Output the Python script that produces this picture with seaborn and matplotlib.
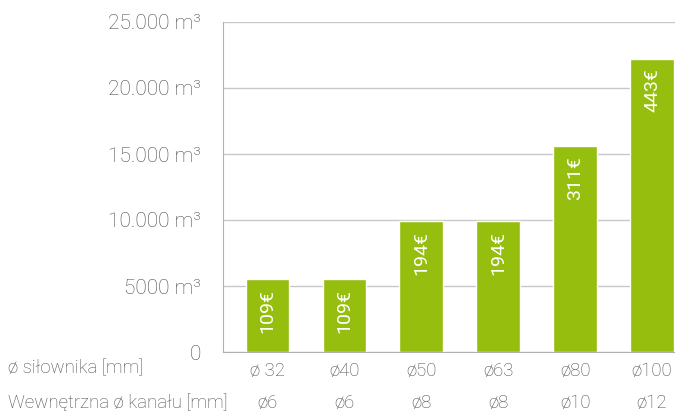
import matplotlib
matplotlib.use('Agg')
import matplotlib.pyplot as plt
import matplotlib.transforms as mtransforms
import pandas as pd
import seaborn as sns

# dane
silownik = ['ø 32', 'ø40', 'ø50', 'ø63', 'ø80', 'ø100']
kanal = ['ø6', 'ø6', 'ø8', 'ø8', 'ø10', 'ø12']
objetosc = [5500, 5500, 9900, 9900, 15600, 22200]
cena = ['109€', '109€', '194€', '194€', '311€', '443€']
y_ticks = [0, 5000, 10000, 15000, 20000, 25000]
y_labels = ['0', '5000 m³', '10.000 m³', '15.000 m³', '20.000 m³', '25.000 m³']

df = pd.DataFrame({'silownik': silownik, 'objetosc': objetosc})

sns.set_style('white')
plt.rcParams['font.family'] = ['Roboto', 'DejaVu Sans']
szary = '#4c4c4c'
zielony = '#96be0e'
waga = 'light'

fig = plt.figure(figsize=(6.75, 4.12), dpi=100)
ax = fig.add_axes([223 / 675, 60 / 412, 452 / 675, 330 / 412])

sns.barplot(data=df, x='silownik', y='objetosc', color=zielony,
            width=0.57, saturation=1, ax=ax)

ax.set_xlim(-0.58, 5.3)
ax.set_ylim(0, 25000)
ax.set_yticks(y_ticks)
ax.set_yticklabels(y_labels, fontsize=15, color=szary, fontweight=waga)
ax.yaxis.grid(True, color='#c8c8c8', linewidth=1)
ax.set_axisbelow(True)
ax.tick_params(axis='y', length=0, pad=16)
ax.tick_params(axis='x', length=0, pad=7)
ax.set_xticks(range(len(silownik)))
ax.set_xticklabels(silownik, fontsize=13.4, color=szary, fontweight=waga)
ax.set_xlabel('')
ax.set_ylabel('')

for s in ['top', 'right']:
    ax.spines[s].set_visible(False)
ax.spines['left'].set_color('#b0b0b0')
ax.spines['bottom'].set_color('#b0b0b0')

# ceny wewnątrz słupków
for i, (v, c) in enumerate(zip(objetosc, cena)):
    ax.annotate(c, (i, v), xytext=(0, -7), textcoords='offset points',
                rotation=90, ha='center', va='top', color='white',
                fontsize=14)

# drugi wiersz etykiet
trans = mtransforms.blended_transform_factory(ax.transData, fig.transFigure)
for i, k in enumerate(kanal):
    ax.text(i, 9 / 412, k, transform=trans, ha='center', va='center',
            fontsize=13.4, color=szary, fontweight=waga)

fig.text(8 / 675, 44 / 412, 'ø siłownika [mm]', ha='left', va='center',
         fontsize=13.4, color=szary, fontweight=waga)
fig.text(8 / 675, 9 / 412, 'Wewnętrzna ø kanału [mm]', ha='left', va='center',
         fontsize=13.4, color=szary, fontweight=waga)

fig.savefig('out.png', dpi=100)
